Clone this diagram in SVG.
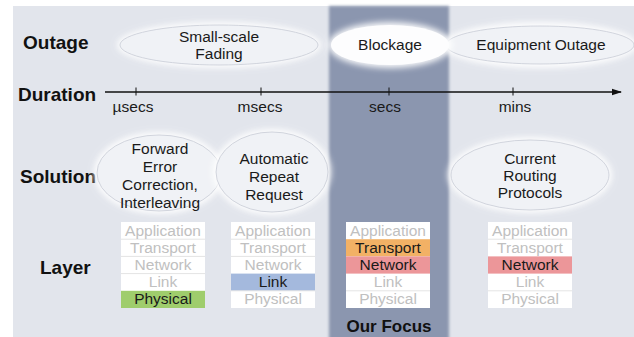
<svg xmlns="http://www.w3.org/2000/svg" width="634" height="337" viewBox="0 0 634 337">
<style>
.lbl{font-family:"Liberation Sans",Arial,sans-serif;font-weight:bold;font-size:19px;fill:#111}
.t{font-family:"Liberation Sans",Arial,sans-serif;font-size:15.5px;fill:#1a1a1a;text-anchor:middle}
.g{fill:#c0c0c0}
.row{fill:#ffffff}
.sep{stroke:#e4e4e4;stroke-width:1}
.ell{fill:#f0f2f6;stroke:#c8ccd5;stroke-width:0.8}
.halo{fill:#ffffff;opacity:0.95}
</style>
<defs>
<filter id="blur" x="-20%" y="-20%" width="140%" height="140%"><feGaussianBlur stdDeviation="3"/></filter>
<filter id="bandblur" x="-5%" y="-5%" width="110%" height="110%"><feGaussianBlur stdDeviation="1.5"/></filter>
<marker id="arr" viewBox="0 0 10 8" refX="9" refY="4" markerWidth="10" markerHeight="8" markerUnits="userSpaceOnUse" orient="auto"><path d="M0,0.8 L10,4 L0,7.2 Z" fill="#111"/></marker>
</defs>
<rect x="0" y="0" width="634" height="337" fill="#ffffff"/>
<rect x="13" y="6" width="621" height="331" fill="#e2e5ec"/>
<rect id="band" x="329" y="6" width="120" height="335" fill="#8b96af" filter="url(#bandblur)"/>

<g id="row-labels">
<text class="lbl" x="23" y="49">Outage</text>
<text class="lbl" x="18" y="101">Duration</text>
<text class="lbl" x="20" y="183">Solution</text>
<text class="lbl" x="40" y="274">Layer</text>
</g>

<g id="connectors">
<line x1="105" y1="92" x2="621" y2="92" stroke="#111" stroke-width="1.3" marker-end="url(#arr)"/>
<g stroke="#111" stroke-width="1">
<line x1="136" y1="87.5" x2="136" y2="95.5"/>
<line x1="261" y1="87.5" x2="261" y2="95.5"/>
<line x1="389" y1="87.5" x2="389" y2="95.5"/>
<line x1="513" y1="87.5" x2="513" y2="95.5"/>
</g>
</g>
<g id="ticks-labels">
<text class="t" x="133" y="112">µsecs</text>
<text class="t" x="260" y="112">msecs</text>
<text class="t" x="385" y="112">secs</text>
<text class="t" x="515" y="112">mins</text>
</g>

<g id="outage-fading">
<ellipse class="halo" cx="219" cy="45" rx="102" ry="23" filter="url(#blur)"/>
<ellipse class="ell" cx="219" cy="45" rx="99" ry="20"/>
<text class="t" x="219" y="42">Small-scale</text>
<text class="t" x="219" y="59">Fading</text>
</g>
<g id="outage-equipment">
<ellipse class="halo" cx="540" cy="45" rx="97" ry="23" filter="url(#blur)"/>
<ellipse class="ell" cx="540" cy="45" rx="94" ry="19"/>
<text class="t" x="541" y="50">Equipment Outage</text>
</g>
<g id="outage-blockage">
<ellipse class="halo" cx="390" cy="45" rx="62" ry="23" filter="url(#blur)"/>
<ellipse cx="390" cy="45" rx="59" ry="20" fill="#fdfdfe"/>
<text class="t" x="390" y="50">Blockage</text>
</g>

<g id="sol-fec">
<ellipse class="halo" cx="159" cy="173" rx="65" ry="41" filter="url(#blur)"/>
<ellipse class="ell" cx="159" cy="173" rx="62" ry="38"/>
<text class="t" x="160" y="154">Forward</text>
<text class="t" x="160" y="172">Error</text>
<text class="t" x="160" y="190">Correction,</text>
<text class="t" x="160" y="208">Interleaving</text>
</g>
<g id="sol-arq">
<ellipse class="halo" cx="272" cy="172" rx="59" ry="43" filter="url(#blur)"/>
<ellipse class="ell" cx="272" cy="172" rx="56" ry="40"/>
<text class="t" x="274" y="164">Automatic</text>
<text class="t" x="274" y="182">Repeat</text>
<text class="t" x="274" y="200">Request</text>
</g>
<g id="sol-routing">
<ellipse class="halo" cx="530" cy="175" rx="82" ry="38" filter="url(#blur)"/>
<ellipse class="ell" cx="530" cy="175" rx="79" ry="35"/>
<text class="t" x="530" y="164">Current</text>
<text class="t" x="530" y="181">Routing</text>
<text class="t" x="530" y="198">Protocols</text>
</g>

<g id="stack-physical">
<rect class="row" x="121" y="222" width="84" height="86"/>
<rect x="121" y="290.8" width="84" height="17.2" fill="#9fcd6c"/>
<g class="sep"><line x1="121" y1="239.2" x2="205" y2="239.2"/><line x1="121" y1="256.4" x2="205" y2="256.4"/><line x1="121" y1="273.6" x2="205" y2="273.6"/></g>
<text class="t g" x="163" y="235.5">Application</text>
<text class="t g" x="163" y="252.7">Transport</text>
<text class="t g" x="163" y="269.9">Network</text>
<text class="t g" x="163" y="287.1">Link</text>
<text class="t" x="163" y="304.3">Physical</text>
</g>
<g id="stack-link">
<rect class="row" x="231" y="222" width="84" height="86"/>
<rect x="231" y="273.6" width="84" height="17.2" fill="#a4b9dd"/>
<g class="sep"><line x1="231" y1="239.2" x2="315" y2="239.2"/><line x1="231" y1="256.4" x2="315" y2="256.4"/><line x1="231" y1="290.8" x2="315" y2="290.8"/></g>
<text class="t g" x="273" y="235.5">Application</text>
<text class="t g" x="273" y="252.7">Transport</text>
<text class="t g" x="273" y="269.9">Network</text>
<text class="t" x="273" y="287.1">Link</text>
<text class="t g" x="273" y="304.3">Physical</text>
</g>
<g id="stack-focus">
<rect class="row" x="346" y="222" width="84" height="86"/>
<rect x="346" y="239.2" width="84" height="17.2" fill="#f2b165"/>
<rect x="346" y="256.4" width="84" height="17.2" fill="#ec9699"/>
<g class="sep"><line x1="346" y1="290.8" x2="430" y2="290.8"/></g>
<text class="t g" x="388" y="235.5">Application</text>
<text class="t" x="388" y="252.7">Transport</text>
<text class="t" x="388" y="269.9">Network</text>
<text class="t g" x="388" y="287.1">Link</text>
<text class="t g" x="388" y="304.3">Physical</text>
</g>
<g id="stack-network">
<rect class="row" x="488" y="222" width="84" height="86"/>
<rect x="488" y="256.4" width="84" height="17.2" fill="#ec9699"/>
<g class="sep"><line x1="488" y1="239.2" x2="572" y2="239.2"/><line x1="488" y1="290.8" x2="572" y2="290.8"/></g>
<text class="t g" x="530" y="235.5">Application</text>
<text class="t g" x="530" y="252.7">Transport</text>
<text class="t" x="530" y="269.9">Network</text>
<text class="t g" x="530" y="287.1">Link</text>
<text class="t g" x="530" y="304.3">Physical</text>
</g>

<g id="focus-label">
<text class="lbl" x="389" y="332" text-anchor="middle" style="font-size:17px">Our Focus</text>
</g>
</svg>
